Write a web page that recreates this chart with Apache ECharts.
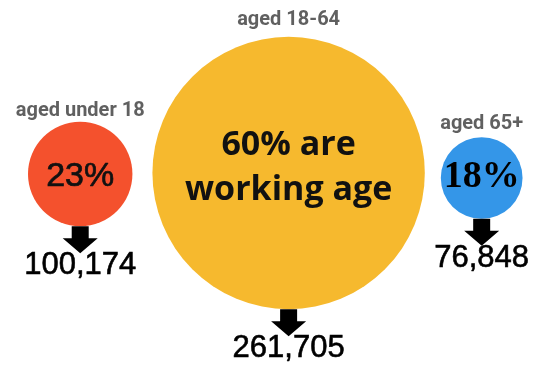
<!DOCTYPE html>
<html>
<head>
<meta charset="utf-8">
<script src="https://cdn.jsdelivr.net/npm/echarts@6/dist/echarts.min.js"></script>
<style>
html, body { margin: 0; padding: 0; background: #fff; }
#main { width: 539px; height: 376px; }
</style>
</head>
<body>
<div id="main"></div>
<script>
// data
var groups = ['aged under 18', 'aged 18-64', 'aged 65+'];
var shares = [23, 60, 18];
var counts = [100174, 261705, 76848];
var shareNotes = ['', ' are\nworking age', ''];

// styles
var colors = ['#F4512D', '#F6B92E', '#3496E8'];
var shareFonts = [
    { fontFamily: 'Liberation Sans', fontSize: 34, color: '#111', textBorderColor: '#111', textBorderWidth: 0.7, offset: [0, 3] },
    { fontFamily: 'Open Sans', fontWeight: 'bold', fontSize: 34, lineHeight: 45, color: '#111', offset: [0, -5] },
    { fontFamily: 'Liberation Serif', fontWeight: 'bold', fontSize: 38, color: '#000', offset: [0, -1] }
];
var nameDistance = [1, 7, 3];

// layout: circles packed left to right, radius proportional to share
var startX = 28, gaps = [20, 16], centerYs = [174, 173, 178], pxPerPoint = 2.27;
var radii = shares.map(function (s) { return s * pxPerPoint; });
var centers = [];
var x = startX;
radii.forEach(function (r, i) {
    x += r;
    centers.push(x);
    x += r + (gaps[i] || 0);
});

function fmt(n) {
    return String(n).replace(/\B(?=(\d{3})+(?!\d))/g, ',');
}

var arrowW = 35, arrowH = 27;
var arrowPath = 'path://M9,0 L26,0 L26,12 L35,12 L17.5,27 L0,12 L9,12 Z';

var chartDom = document.getElementById('main');
var myChart = echarts.init(chartDom);

var option = {
    animation: false,
    grid: { left: 0, right: 0, top: 0, bottom: 0 },
    xAxis: { type: 'value', min: 0, max: 539, show: false },
    yAxis: { type: 'value', min: 0, max: 376, inverse: true, show: false },
    series: [
        {
            // circles with the share text
            type: 'scatter',
            symbol: 'circle',
            data: shares.map(function (s, i) {
                return {
                    value: [centers[i], centerYs[i]],
                    symbolSize: radii[i] * 2,
                    itemStyle: { color: colors[i], opacity: 1 },
                    label: Object.assign({
                        show: true,
                        position: 'inside',
                        formatter: s + '%' + shareNotes[i]
                    }, shareFonts[i])
                };
            })
        },
        {
            // group names above circles
            type: 'scatter',
            symbol: 'circle',
            silent: true,
            data: groups.map(function (g, i) {
                return {
                    value: [centers[i], centerYs[i]],
                    symbolSize: radii[i] * 2,
                    itemStyle: { color: 'rgba(0,0,0,0)' },
                    label: {
                        show: true,
                        position: 'top',
                        distance: nameDistance[i],
                        formatter: g,
                        fontFamily: 'Roboto',
                        fontWeight: 'bold',
                        fontSize: 20,
                        color: '#383838'
                    }
                };
            })
        },
        {
            // arrows with counts
            type: 'scatter',
            symbol: arrowPath,
            symbolSize: [arrowW, arrowH],
            data: counts.map(function (c, i) {
                return {
                    value: [centers[i], centerYs[i] + radii[i] + arrowH / 2],
                    itemStyle: { color: '#000', opacity: 1 },
                    label: {
                        show: true,
                        position: 'bottom',
                        distance: -3,
                        formatter: fmt(c),
                        fontFamily: 'Liberation Sans',
                        fontSize: 31,
                        color: '#000',
                        textBorderColor: '#000',
                        textBorderWidth: 0.6
                    }
                };
            })
        }
    ]
};

myChart.setOption(option);
</script>
</body>
</html>
